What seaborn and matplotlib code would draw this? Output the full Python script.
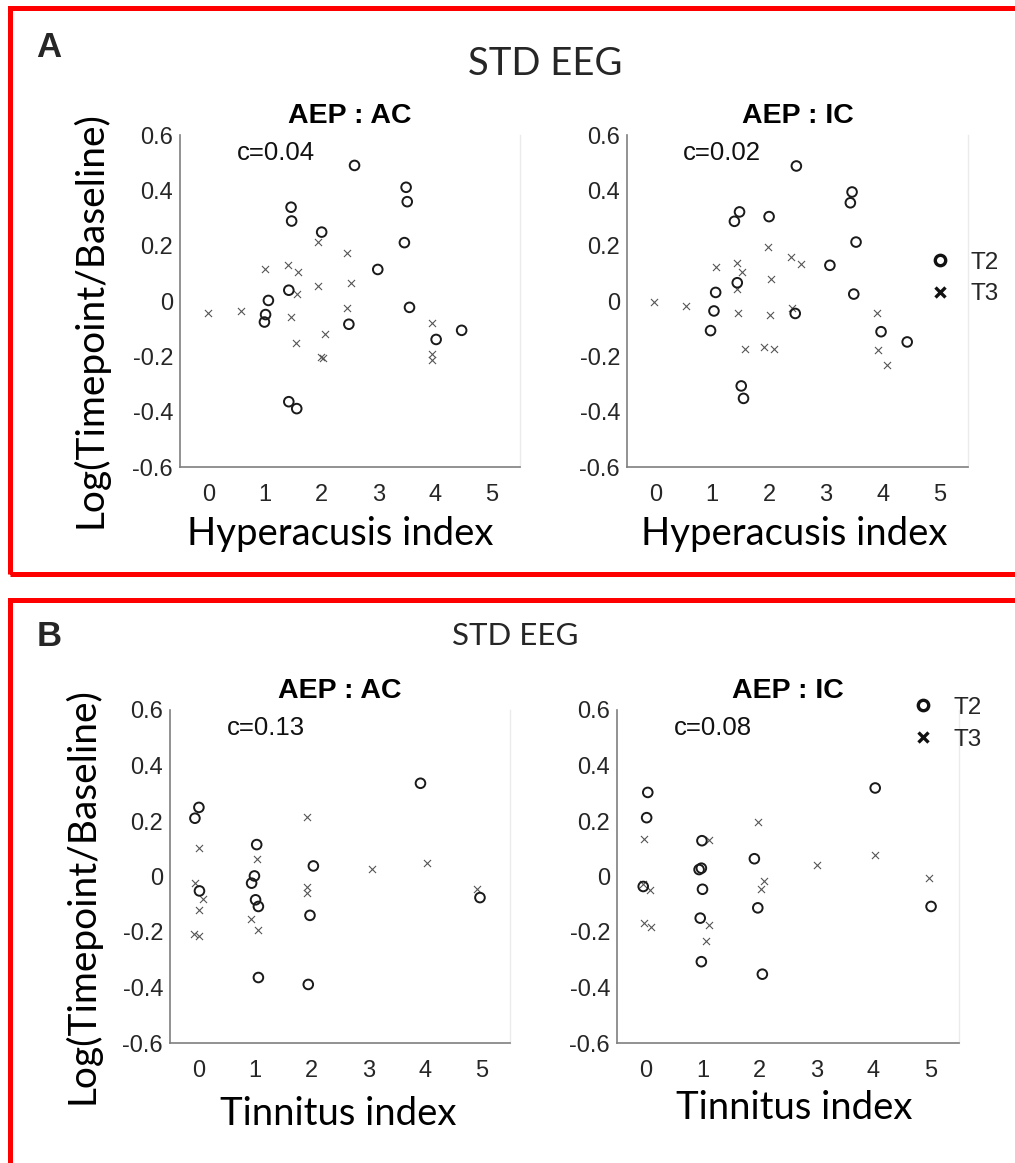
import pandas as pd
import matplotlib
matplotlib.use("Agg")
import matplotlib.pyplot as plt
from matplotlib.lines import Line2D
from matplotlib.patches import Rectangle
import seaborn as sns

# ---- data ----
# A: hyperacusis index, AC
hyp_ac_t2_x = [2.58, 3.49, 3.51, 1.46, 1.47, 2.00, 3.46, 2.99, 1.42, 1.06, 3.55, 1.01, 0.99, 2.48, 4.47, 4.02, 1.42, 1.56]
hyp_ac_t2_y = [0.490, 0.411, 0.359, 0.339, 0.289, 0.249, 0.211, 0.114, 0.039, 0.002, -0.023, -0.049, -0.076, -0.084, -0.106, -0.139, -0.364, -0.389]
hyp_ac_t3_x = [-0.01, 0.58, 1.00, 1.40, 1.59, 1.93, 1.93, 2.45, 2.51, 1.56, 2.45, 1.45, 2.05, 1.55, 1.98, 2.03, 3.94, 3.95, 3.95]
hyp_ac_t3_y = [-0.042, -0.037, 0.114, 0.129, 0.106, 0.214, 0.053, 0.173, 0.064, 0.027, -0.024, -0.059, -0.118, -0.153, -0.201, -0.206, -0.078, -0.190, -0.213]
# A: hyperacusis index, IC
hyp_ic_t2_x = [2.48, 3.46, 3.43, 1.48, 1.39, 2.00, 3.53, 3.07, 1.44, 1.06, 3.49, 1.03, 2.46, 0.97, 3.97, 4.43, 1.51, 1.55]
hyp_ic_t2_y = [0.488, 0.394, 0.355, 0.322, 0.288, 0.305, 0.213, 0.129, 0.066, 0.031, 0.025, -0.036, -0.045, -0.107, -0.111, -0.148, -0.307, -0.352]
hyp_ic_t3_x = [-0.02, 0.54, 1.06, 1.43, 1.53, 1.44, 1.98, 2.04, 2.39, 2.56, 1.46, 2.02, 2.40, 1.57, 1.91, 2.08, 3.90, 3.91, 4.07]
hyp_ic_t3_y = [-0.005, -0.019, 0.123, 0.136, 0.105, 0.042, 0.196, 0.078, 0.160, 0.134, -0.043, -0.049, -0.024, -0.175, -0.166, -0.175, -0.042, -0.178, -0.233]
# B: tinnitus index, AC
tin_ac_t2_x = [3.92, 0.01, -0.06, 1.03, 2.03, 0.99, 0.94, 0.02, 1.01, 1.06, 1.97, 4.97, 1.06, 1.94]
tin_ac_t2_y = [0.336, 0.249, 0.210, 0.115, 0.038, 0.002, -0.024, -0.052, -0.084, -0.108, -0.140, -0.076, -0.364, -0.389]
tin_ac_t3_x = [1.92, 0.02, 1.03, 4.03, 3.06, -0.06, 0.08, 0.02, 1.92, 1.92, 4.91, 0.93, 1.06, -0.08, 0.02]
tin_ac_t3_y = [0.214, 0.104, 0.062, 0.050, 0.026, -0.024, -0.080, -0.120, -0.038, -0.060, -0.044, -0.154, -0.192, -0.206, -0.214]
# B: tinnitus index, IC
tin_ic_t2_x = [0.04, 0.02, 4.03, 0.99, 1.91, 0.94, 0.98, -0.04, 1.00, 1.97, 0.96, 5.01, 0.98, 2.05]
tin_ic_t2_y = [0.303, 0.212, 0.319, 0.129, 0.064, 0.025, 0.030, -0.036, -0.046, -0.113, -0.150, -0.108, -0.307, -0.352]
tin_ic_t3_x = [1.98, -0.03, 1.11, 4.02, 3.00, 4.97, -0.04, 0.08, 2.08, 2.03, -0.02, 0.10, 1.12, 1.06]
tin_ic_t3_y = [0.196, 0.134, 0.131, 0.077, 0.042, -0.007, -0.026, -0.048, -0.018, -0.046, -0.167, -0.181, -0.176, -0.234]

corr_labels = ["c=0.04", "c=0.02", "c=0.13", "c=0.08"]
titles = ["AEP : AC", "AEP : IC", "AEP : AC", "AEP : IC"]
xlabels = ["Hyperacusis index", "Hyperacusis index", "Tinnitus index", "Tinnitus index"]
ylabel = "Log(Timepoint/Baseline)"
yticks = [-0.6, -0.4, -0.2, 0, 0.2, 0.4, 0.6]
ytick_labels = ["-0.6", "-0.4", "-0.2", "0", "0.2", "0.4", "0.6"]
xticks = [0, 1, 2, 3, 4, 5]


def make_df(t2x, t2y, t3x, t3y):
    return pd.DataFrame({
        "x": t2x + t3x,
        "y": t2y + t3y,
        "tp": ["T2"] * len(t2x) + ["T3"] * len(t3x),
    })


panels = [
    make_df(hyp_ac_t2_x, hyp_ac_t2_y, hyp_ac_t3_x, hyp_ac_t3_y),
    make_df(hyp_ic_t2_x, hyp_ic_t2_y, hyp_ic_t3_x, hyp_ic_t3_y),
    make_df(tin_ac_t2_x, tin_ac_t2_y, tin_ac_t3_x, tin_ac_t3_y),
    make_df(tin_ic_t2_x, tin_ic_t2_y, tin_ic_t3_x, tin_ic_t3_y),
]

sns.set_style("white")
plt.rcParams["font.family"] = ["Liberation Sans", "DejaVu Sans"]
LABEL_FONT = "Lato"

W, H = 1015, 1163
fig = plt.figure(figsize=(W / 100, H / 100), dpi=100)


def px_axes(left, top, right, bottom):
    return fig.add_axes([left / W, 1 - bottom / H, (right - left) / W, (bottom - top) / H])


axes = [
    px_axes(180, 135, 520, 467),
    px_axes(627, 135, 968, 467),
    px_axes(170, 710, 510, 1043),
    px_axes(617, 710, 959, 1043),
]

# label placement (axes fractions)
c_pos = [(0.168, 0.925), (0.164, 0.925), (0.168, 0.925), (0.167, 0.925)]
xlab_pos = [(0.47, -0.235), (0.491, -0.235), (0.494, -0.246), (0.519, -0.228)]
ylab_pos = [(-0.265, 0.443), None, (-0.259, 0.444), None]

spine_col = "#7f7f7f"
for i, (ax, df) in enumerate(zip(axes, panels)):
    t2 = df[df.tp == "T2"]
    t3 = df[df.tp == "T3"]
    sns.scatterplot(data=t3, x="x", y="y", ax=ax, marker="x", color="#555555",
                    s=26, linewidth=0.8, legend=False, zorder=3)
    sns.scatterplot(data=t2, x="x", y="y", ax=ax, marker="o", facecolor="none",
                    edgecolor="#1a1a1a", s=48, linewidth=1.4, legend=False, zorder=4)
    ax.set_xlim(-0.5, 5.5)
    ax.set_ylim(-0.6, 0.6)
    ax.set_xticks(xticks)
    ax.set_xticklabels([str(t) for t in xticks])
    ax.set_yticks(yticks)
    ax.set_yticklabels(ytick_labels)
    ax.tick_params(axis="both", direction="in", length=3, width=1, color=spine_col,
                   labelsize=17, labelcolor="#262626")
    ax.tick_params(axis="x", pad=12)
    ax.tick_params(axis="y", pad=5)
    for side in ["left", "bottom"]:
        ax.spines[side].set_color(spine_col)
        ax.spines[side].set_linewidth(1.2)
    ax.spines["top"].set_visible(False)
    ax.spines["right"].set_color("#ebebeb")
    ax.spines["right"].set_linewidth(1)
    ax.set_title(titles[i], fontsize=20.5, fontweight="bold", pad=8.5, color="black")
    ax.text(c_pos[i][0], c_pos[i][1], corr_labels[i], transform=ax.transAxes,
            fontsize=18.5, ha="left", va="baseline", color="#111111")
    ax.set_xlabel(xlabels[i], family=LABEL_FONT, fontsize=27.5, va="baseline", color="black")
    ax.xaxis.set_label_coords(*xlab_pos[i])
    if ylab_pos[i] is not None:
        ax.set_ylabel(ylabel, family=LABEL_FONT, fontsize=28, va="center", color="black")
        ax.yaxis.set_label_coords(*ylab_pos[i])
    else:
        ax.set_ylabel("")

# legends
handles = [
    Line2D([], [], marker="o", linestyle="none", markerfacecolor="none",
           markeredgecolor="#111111", markeredgewidth=2.4, markersize=7.5, label="T2"),
    Line2D([], [], marker="x", linestyle="none", color="#111111",
           markeredgewidth=2.4, markersize=6.5, label="T3"),
]
for ax, anchor in [(axes[1], (0.883, 0.568)), (axes[3], (0.86, 0.959))]:
    ax.legend(handles=handles, loc="center left", bbox_to_anchor=anchor, frameon=False,
              fontsize=17.5, handlelength=1.0, handletextpad=0.75, labelspacing=0.4,
              borderpad=0, borderaxespad=0)

# panel letters and headers
fig.text(36 / W, 1 - 57 / H, "A", fontsize=25, fontweight="bold", ha="left", va="baseline")
fig.text(37 / W, 1 - 646 / H, "B", fontsize=25, fontweight="bold", ha="left", va="baseline")
fig.text(545 / W, 1 - 75 / H, "STD EEG", family=LABEL_FONT, fontsize=27.5, ha="center", va="baseline")
fig.text(515 / W, 1 - 645 / H, "STD EEG", family=LABEL_FONT, fontsize=22.5, ha="center", va="baseline")

# red boxes around panels (open to the right / bottom)
red = "#ff0000"
fig.add_artist(Rectangle((9.5 / W, 1 - 574 / H), 1.1, (574 - 7.5) / H, transform=fig.transFigure,
                         fill=False, edgecolor=red, linewidth=3.6))
fig.add_artist(Rectangle((9.5 / W, -0.1), 1.1, 0.1 + 1 - 600.5 / H, transform=fig.transFigure,
                         fill=False, edgecolor=red, linewidth=3.6))

fig.savefig("out.png", dpi=100)
